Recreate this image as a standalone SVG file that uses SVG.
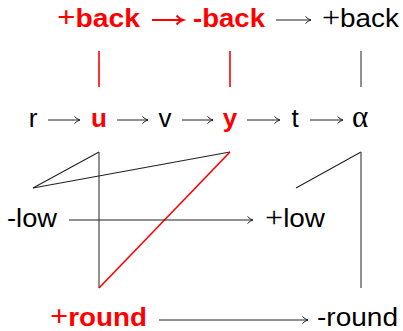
<svg xmlns="http://www.w3.org/2000/svg" width="403" height="331" viewBox="0 0 403 331">
<defs>
<style>
.t{font-family:"Liberation Sans",Arial,sans-serif;font-size:26px;fill:#000}
.r{fill:#ff0000;font-weight:bold}
.m{font-family:"Liberation Serif","DejaVu Serif",serif}
.p{font-family:"Liberation Serif","DejaVu Serif",serif;font-size:30px}
.a{stroke:#222;stroke-width:1;fill:none;marker-end:url(#ah)}
.l{stroke:#222;stroke-width:1.1;fill:none}
.g{stroke:#555;stroke-width:1.3;fill:none}
.rl{stroke:#ff0000;stroke-width:1.6;fill:none}
.ra{stroke:#ff0000;stroke-width:2;fill:none;marker-end:url(#ahr)}
</style>
<marker id="ah" markerUnits="userSpaceOnUse" markerWidth="10" markerHeight="10" refX="6" refY="4" orient="auto">
<path d="M0.5,0.5 Q3,3.2 6,4 Q3,4.8 0.5,7.5" fill="none" stroke="#222" stroke-width="1"/>
</marker>
<marker id="ahr" markerUnits="userSpaceOnUse" markerWidth="12" markerHeight="12" refX="7" refY="5" orient="auto">
<path d="M0.5,0.5 Q3.5,4 7,5 Q3.5,6 0.5,9.5" fill="none" stroke="#ff0000" stroke-width="2"/>
</marker>
</defs>
<g id="n-plusback1"><text class="t r" x="57" y="27" textLength="83" lengthAdjust="spacingAndGlyphs"><tspan class="p">+</tspan>back</text></g>
<g id="n-minusback"><text class="t r" x="193" y="27" textLength="72" lengthAdjust="spacingAndGlyphs">-back</text></g>
<g id="n-plusback2"><text class="t" x="322" y="27" textLength="77" lengthAdjust="spacingAndGlyphs"><tspan class="p">+</tspan>back</text></g>
<g id="n-r"><text class="t" x="33" y="127" text-anchor="middle">r</text></g>
<g id="n-u"><text class="t r" x="99" y="127" text-anchor="middle">u</text></g>
<g id="n-v"><text class="t" x="165" y="127" text-anchor="middle">v</text></g>
<g id="n-y"><text class="t r" x="230" y="127" text-anchor="middle">y</text></g>
<g id="n-t"><text class="t" x="295" y="127" text-anchor="middle">t</text></g>
<g id="n-alpha"><text class="t m" x="360" y="127" text-anchor="middle" style="font-size:31px">α</text></g>
<g id="n-minuslow"><text class="t" x="7" y="227" textLength="50" lengthAdjust="spacingAndGlyphs">-low</text></g>
<g id="n-pluslow"><text class="t" x="265" y="227" textLength="60" lengthAdjust="spacingAndGlyphs"><tspan class="p">+</tspan>low</text></g>
<g id="n-plusround"><text class="t r" x="50" y="326" textLength="97" lengthAdjust="spacingAndGlyphs"><tspan class="p">+</tspan>round</text></g>
<g id="n-minusround"><text class="t" x="317" y="326" textLength="81" lengthAdjust="spacingAndGlyphs">-round</text></g>
<g id="connectors">
<line class="ra" x1="152" y1="20" x2="183" y2="20"/>
<line class="a" x1="276" y1="20" x2="311" y2="20"/>
<line class="rl" x1="99" y1="51" x2="99" y2="87"/>
<line class="rl" x1="230" y1="51" x2="230" y2="87"/>
<line class="g" x1="361" y1="51" x2="361" y2="87"/>
<line class="a" x1="48" y1="120" x2="80" y2="120"/>
<line class="a" x1="117" y1="120" x2="148" y2="120"/>
<line class="a" x1="182" y1="120" x2="213" y2="120"/>
<line class="a" x1="247" y1="120" x2="280" y2="120"/>
<line class="a" x1="310" y1="120" x2="343" y2="120"/>
<line class="g" x1="99" y1="152" x2="99" y2="288"/>
<line class="l" x1="99" y1="152" x2="33" y2="188"/>
<line class="l" x1="33" y1="188" x2="230" y2="152"/>
<line class="rl" x1="230" y1="152" x2="99" y2="288"/>
<line class="l" x1="361" y1="152" x2="296" y2="188"/>
<line class="g" x1="361" y1="152" x2="361" y2="288"/>
<line class="a" x1="69" y1="220" x2="253" y2="220"/>
<line class="a" x1="159" y1="320" x2="308" y2="320"/>
</g>
</svg>
